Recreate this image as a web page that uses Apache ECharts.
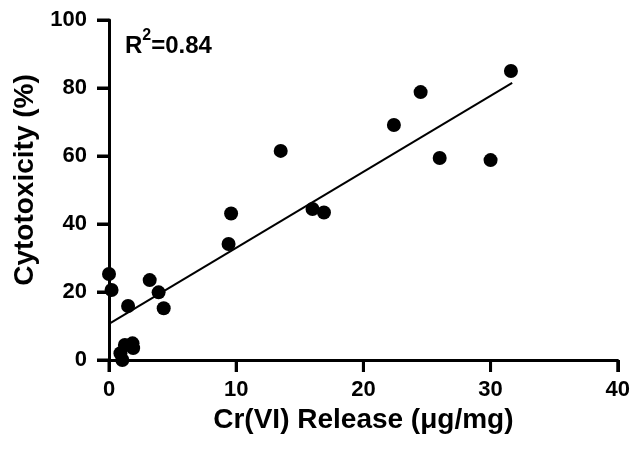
<!DOCTYPE html>
<html>
<head>
<meta charset="utf-8">
<script src="https://cdn.jsdelivr.net/npm/echarts@6/dist/echarts.min.js"></script>
<style>html,body{margin:0;padding:0;background:#fff}#c{width:633px;height:452px}</style>
</head>
<body>
<div id="c"></div>
<script>
// Data
var crRelease = [0.0, 0.2, 1.5, 3.2, 3.9, 4.3, 1.85, 1.25, 0.9, 1.05, 1.9, 9.4, 9.6, 13.5, 16.0, 16.9, 22.4, 24.5, 26.0, 30.0, 31.6];
var cytotoxicity = [25.3, 20.6, 15.9, 23.5, 19.9, 15.2, 4.9, 4.4, 2.0, 0.0, 3.5, 34.1, 43.1, 61.5, 44.4, 43.4, 69.1, 78.8, 59.4, 58.8, 85.0];
var fitX = [0, 31.7];
var fitY = [10.6, 81.5];
var xTicks = [0, 10, 20, 30, 40];
var yTicks = [0, 20, 40, 60, 80, 100];
var r2Parts = ['R', '2', '=0.84'];

var pts = crRelease.map(function (x, i) { return [x, cytotoxicity[i]]; });
var fit = fitX.map(function (x, i) { return [x, fitY[i]]; });
var xTickData = xTicks.map(function (v) { return [v, yTicks[0]]; });
var yTickData = yTicks.map(function (v) { return [xTicks[0], v]; });

var font = 'Liberation Sans, Arial, sans-serif';

var chart = echarts.init(document.getElementById('c'), null, {renderer: 'canvas'});
chart.setOption({
  animation: false,
  backgroundColor: '#fff',
  grid: {left: 109, right: 14, top: 20, bottom: 92, containLabel: false},
  title: {
    text: '{a|' + r2Parts[0] + '}{b|' + r2Parts[1] + '}{a|' + r2Parts[2] + '}',
    left: 120, top: 23,
    textStyle: {
      fontFamily: font, fontWeight: 'bold', fontSize: 24, color: '#000',
      rich: {
        a: {fontFamily: font, fontWeight: 'bold', fontSize: 24, color: '#000', lineHeight: 30, verticalAlign: 'bottom'},
        b: {fontFamily: font, fontWeight: 'bold', fontSize: 16, color: '#000', lineHeight: 30, verticalAlign: 'top'}
      }
    }
  },
  xAxis: {
    type: 'value', min: xTicks[0], max: xTicks[xTicks.length - 1], interval: 10,
    name: 'Cr(VI) Release (μg/mg)', nameLocation: 'middle', nameGap: 40,
    nameTextStyle: {fontFamily: font, fontWeight: 'bold', fontSize: 28, color: '#000'},
    axisLine: {show: true, onZero: false, lineStyle: {color: '#000', width: 3}},
    axisTick: {show: true, inside: false, length: 12, lineStyle: {color: '#000', width: 3}},
    axisLabel: {fontFamily: font, fontWeight: 'bold', fontSize: 22, color: '#000', margin: 19},
    splitLine: {show: false}
  },
  yAxis: {
    type: 'value', min: yTicks[0], max: yTicks[yTicks.length - 1], interval: 20,
    name: 'Cytotoxicity (%)', nameLocation: 'middle', nameGap: 68, nameRotate: 90,
    nameTextStyle: {fontFamily: font, fontWeight: 'bold', fontSize: 28, color: '#000', padding: [0, 0, 0, 20]},
    axisLine: {show: true, onZero: false, lineStyle: {color: '#000', width: 3}},
    axisTick: {show: true, inside: false, length: 12, lineStyle: {color: '#000', width: 3}},
    axisLabel: {fontFamily: font, fontWeight: 'bold', fontSize: 22, color: '#000', margin: 22},
    splitLine: {show: false}
  },
  series: [
    {
      type: 'scatter', data: xTickData, symbol: 'rect', symbolSize: [3, 12], symbolOffset: [0, 6],
      clip: false, silent: true, itemStyle: {color: '#000', opacity: 1}, z: 1
    },
    {
      type: 'scatter', data: yTickData, symbol: 'rect', symbolSize: [12, 3], symbolOffset: [-6, 0],
      clip: false, silent: true, itemStyle: {color: '#000', opacity: 1}, z: 1
    },
    {
      type: 'line', data: fit, showSymbol: false, symbol: 'none',
      lineStyle: {color: '#000', width: 2}, z: 3, silent: true
    },
    {
      type: 'scatter', data: pts, symbol: 'circle', symbolSize: 14, clip: false,
      itemStyle: {color: '#000', opacity: 1}, z: 4
    }
  ]
});
</script>
</body>
</html>
